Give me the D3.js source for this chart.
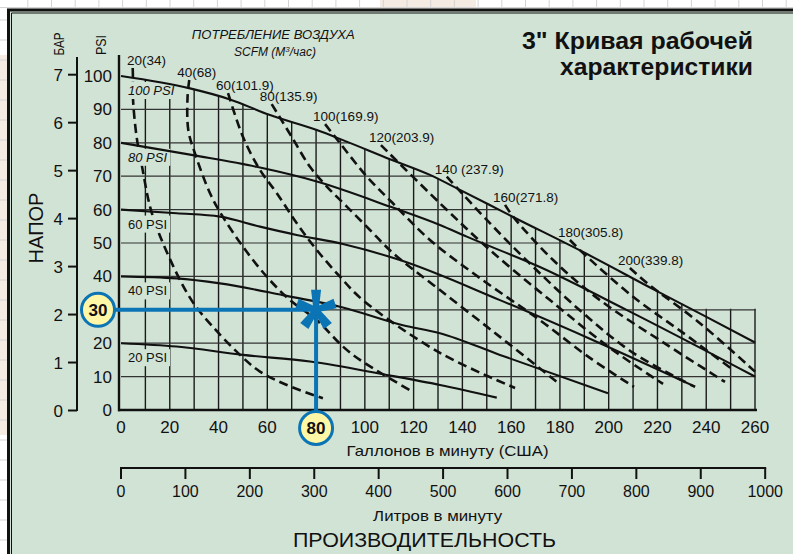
<!DOCTYPE html>
<html><head><meta charset="utf-8">
<script src="https://cdn.jsdelivr.net/npm/d3@7"></script>
<style>
body{margin:0;background:#fff}
svg{display:block}
text{font-family:"Liberation Sans",Arial,Helvetica,sans-serif;fill:#111}
</style>
</head><body>
<svg id="c" width="793" height="554"></svg>
<script>
// ---------- DATA ----------
const gpmTicks = d3.range(0, 261, 20);
const psiTicks = d3.range(0, 101, 10);
const barTicks = d3.range(0, 8, 1);
const litreTicks = d3.range(0, 1001, 100);

// Solid curves: head (PSI) vs flow (US GPM) at given air inlet pressure
const inletLabels = ["100 PSI", "80 PSI", "60 PSI", "40 PSI", "20 PSI"];
const inletStart = [100, 80, 60, 40, 20];
const inlet100 = [[0,100],[28.3,96.3],[44.7,93.0],[61.1,88.3],[80.3,83.8],[91.0,80.8],[110.3,75.1],[126.7,70.4],[139.0,65.9],[160.8,57.8],[189.5,47.3],[219.0,35.9],[238.7,28.4],[260,20.2]];
const inlet80 = [[0,80],[29.5,76.3],[55.6,72.8],[80.3,68.4],[110.3,60.9],[130.8,55.4],[141.8,51.9],[171.8,42.8],[207.5,29.9],[260,10]];
const inlet60 = [[0,60],[22.8,58.9],[40.6,57.9],[57.0,54.9],[72.0,52.4],[91.0,49.7],[114.4,44.9],[155.4,32.9],[196.4,20.0],[235.4,7.0]];
const inlet40 = [[0,40],[22.8,39.4],[40.6,37.9],[66.4,34.4],[91.0,30.7],[115.6,25.4],[130.8,23.0],[155.4,16.5],[199.7,5.0]];
const inlet20 = [[0,20],[22.8,19.0],[50.0,16.5],[77.5,14.5],[109.0,10.5],[130.8,7.5],[154.1,3.7]];

// Dashed curves: air consumption SCFM (m3/h)
const airLabels = ["20(34)","40(68)","60(101.9)","80(135.9)","100(169.9)","120(203.9)","140 (237.9)","160(271.8)","180(305.8)","200(339.8)"];
const air20 = [[4.8,102.4],[4.9,99.4],[4.9,93.4],[6.4,81.8],[8.5,73.4],[11.9,60.9],[15.3,53.4],[24.2,38.9],[30.3,31.4],[37.7,24.9],[48.8,16.5],[57.0,11.5],[68.0,7.5],[82.8,3.5]];
const air40 = [[28.0,98.8],[27.3,93.8],[27.6,83.8],[30.3,76.9],[36.5,64.9],[41.3,58.4],[50.0,48.9],[59.8,39.9],[69.3,32.9],[80.3,26.9],[91.0,19.0],[98.0,15.0],[119.7,5.4]];
const air60 = [[43.9,94.9],[50.0,81.8],[57.0,71.9],[63.9,64.9],[72.1,55.9],[80.3,47.9],[89.8,39.9],[99.2,32.9],[130.8,17.1],[161.6,6.6]];
const air80 = [[61.8,91.6],[70.0,81.8],[77.5,72.8],[84.4,66.9],[92.6,60.9],[102.1,53.9],[111.5,47.0],[130.8,35.9],[155.4,21.9],[178.8,8.4]];
const air100 = [[83.7,85.6],[89.8,79.9],[100.8,69.9],[111.5,61.9],[126.7,50.9],[147.2,39.5],[171.8,26.9],[192.3,15.6],[210.4,6.9]];
const air120 = [[106.6,79.3],[130.8,61.9],[151.3,47.9],[175.9,32.9],[200.5,18.6],[222.3,7.8]];
const air140 = [[133.6,69.9],[150.0,56.9],[169.0,42.9],[189.5,29.0],[210.0,17.1],[235.4,6.9]];
const air160 = [[157.5,61.4],[160.8,57.9],[177.2,44.9],[196.4,32.9],[223.9,19.5],[247.7,8.4]];
const air180 = [[184.1,50.9],[189.5,47.0],[210.0,33.9],[230.5,23.1],[251.0,12.0]];
const air200 = [[208.7,42.5],[215.7,38.0],[237.4,26.0],[260.0,11.5]];

// Example operating point
const exampleFlow = 80;
const exampleHead = 30;

const LITRES_PER_GAL = 3.78541;

// ---------- LAYOUT ----------
const panel = "#d1e3d5";
const blue = "#0b74b4";
const svg = d3.select("#c");
const x = d3.scaleLinear().domain([0, 260]).range([121, 755]);
const y = d3.scaleLinear().domain([0, 100]).range([410, 76]);
const yBar = d3.scaleLinear().domain([0, 7]).range([410.5, 74.7]);
const xL = d3.scaleLinear().domain([0, 1000]).range([x(0), x(1000 / LITRES_PER_GAL)]);

// outside background (spreadsheet-like)
const bg = svg.append("g");
bg.append("rect").attr("width", 793).attr("height", 554).attr("fill", "#fff");
bg.append("rect").attr("x", 380).attr("y", 0).attr("width", 96).attr("height", 9).attr("fill", "#f4ebe2");
bg.append("rect").attr("x", 0).attr("y", 55).attr("width", 8).attr("height", 380).attr("fill", "#f4ebe2");
for (let gx = 27.8; gx < 793; gx += 23.7) {
  bg.append("line").attr("x1", gx).attr("x2", gx).attr("y1", 0).attr("y2", 8).attr("stroke", "#d4d4d4").attr("stroke-width", 1);
}
for (let gy = 20; gy < 554; gy += 20) {
  bg.append("line").attr("x1", 0).attr("x2", 7).attr("y1", gy).attr("y2", gy).attr("stroke", "#d4d4d4").attr("stroke-width", 1);
}
bg.append("line").attr("x1", 0).attr("x2", 793).attr("y1", 7.5).attr("y2", 7.5).attr("stroke", "#d4d4d4");

// panel and double border
svg.append("rect").attr("x", 7).attr("y", 8.5).attr("width", 800).attr("height", 560).attr("fill", panel);
svg.append("path").attr("d", "M8.5,560 V10 H800").attr("fill", "none").attr("stroke", "#111").attr("stroke-width", 3);
svg.append("path").attr("d", "M11.5,560 V13 H800").attr("fill", "none").attr("stroke", "#111").attr("stroke-width", 1);

// clip for grid: under the 100 PSI curve, plus lower-right box up to 30 PSI
const defs = svg.append("defs");
const clip = defs.append("clipPath").attr("id", "gridclip");
clip.append("path").attr("d", d3.area().x(d => x(d[0])).y0(y(0) + 2).y1(d => y(d[1]) - 0.5).curve(d3.curveMonotoneX)(inlet100));
clip.append("rect").attr("x", x(200)).attr("y", y(30) - 1).attr("width", x(260) - x(200) + 1.5).attr("height", y(0) - y(30) + 3);

const gGrid = svg.append("g").attr("clip-path", "url(#gridclip)");
d3.range(10, 261, 10).forEach(v => {
  gGrid.append("line").attr("x1", x(v)).attr("x2", x(v)).attr("y1", y(0)).attr("y2", y(100))
    .attr("stroke", "#1a1a1a").attr("stroke-width", 1.4);
});
d3.range(10, 100, 10).forEach(v => {
  gGrid.append("line").attr("x1", x(0)).attr("x2", x(260) + 0.7).attr("y1", y(v)).attr("y2", y(v))
    .attr("stroke", "#333").attr("stroke-width", 1.2);
});

// layers
const gDash = svg.append("g");
const gRects = svg.append("g");
const gSolid = svg.append("g");
const gLbl = svg.append("g");
const ax = svg.append("g");
const gAnno = svg.append("g");

// dashed air consumption curves
const airCurves = [air20, air40, air60, air80, air100, air120, air140, air160, air180, air200];
const dashLine = d3.line().x(d => x(d[0])).y(d => y(d[1])).curve(d3.curveCatmullRom.alpha(0.5));
airCurves.forEach((c, i) => {
  gDash.append("path").attr("d", dashLine(c)).attr("fill", "none")
    .attr("stroke", "#111").attr("stroke-width", 2.6).attr("stroke-dasharray", "9,5");
  gLbl.append("text").attr("x", Math.max(x(0) + 6, x(c[0][0]) - 12)).attr("y", y(c[0][1]) - 3)
    .attr("font-size", 13.5).text(airLabels[i]);
});

// solid inlet pressure curves
const inletCurves = [inlet100, inlet80, inlet60, inlet40, inlet20];
const solidLine = d3.line().x(d => x(d[0])).y(d => y(d[1])).curve(d3.curveMonotoneX);
inletCurves.forEach((c, i) => {
  gSolid.append("path").attr("d", solidLine(c)).attr("fill", "none")
    .attr("stroke", "#111").attr("stroke-width", 2.1);
  const t = gLbl.append("text").attr("x", x(0) + 7).attr("y", y(inletStart[i]) + 19)
    .attr("font-size", 13).attr("font-style", i < 2 ? "italic" : "normal").text(inletLabels[i]);
  const bb = t.node().getBBox();
  gRects.append("rect").attr("x", bb.x - 3).attr("y", bb.y - 1).attr("width", bb.width + 6).attr("height", bb.height + 2).attr("fill", panel);
});

// axes
ax.append("line").attr("x1", x(0) - 2).attr("x2", x(0) - 2).attr("y1", 55).attr("y2", y(0) + 1.2).attr("stroke", "#111").attr("stroke-width", 2.4);
ax.append("line").attr("x1", x(0) - 3).attr("x2", x(260) + 2).attr("y1", y(0)).attr("y2", y(0)).attr("stroke", "#111").attr("stroke-width", 2.6);
// tick labels hidden under the example callouts are not drawn
psiTicks.filter(v => v !== exampleHead).forEach(v => {
  ax.append("text").attr("x", 112).attr("y", y(v) + 6).attr("text-anchor", "end").attr("font-size", 17).text(v);
});
gpmTicks.filter(v => v !== exampleFlow).forEach(v => {
  ax.append("text").attr("x", x(v)).attr("y", 433).attr("text-anchor", "middle").attr("font-size", 17).text(v);
});
// bar axis
ax.append("line").attr("x1", 77).attr("x2", 77).attr("y1", 57).attr("y2", y(0) + 1).attr("stroke", "#111").attr("stroke-width", 2);
barTicks.forEach(b => {
  ax.append("line").attr("x1", 68).attr("x2", 77).attr("y1", yBar(b)).attr("y2", yBar(b)).attr("stroke", "#111").attr("stroke-width", 2);
  ax.append("text").attr("x", 63).attr("y", yBar(b) + 6).attr("text-anchor", "end").attr("font-size", 17).text(b);
});
ax.append("text").attr("transform", "translate(64,44) rotate(-90)").attr("text-anchor", "middle")
  .attr("font-size", 15).attr("textLength", 23).attr("lengthAdjust", "spacingAndGlyphs").text("БАР");
ax.append("text").attr("transform", "translate(106,45) rotate(-90)").attr("text-anchor", "middle")
  .attr("font-size", 15).attr("textLength", 20).attr("lengthAdjust", "spacingAndGlyphs").text("PSI");
ax.append("text").attr("transform", "translate(43,228) rotate(-90)").attr("text-anchor", "middle")
  .attr("font-size", 20).text("НАПОР");

// litre axis
const ly = 468;
ax.append("line").attr("x1", xL(0) - 1).attr("x2", xL(1000) + 1).attr("y1", ly).attr("y2", ly).attr("stroke", "#111").attr("stroke-width", 2);
litreTicks.forEach(v => {
  ax.append("line").attr("x1", xL(v)).attr("x2", xL(v)).attr("y1", ly).attr("y2", ly + 11).attr("stroke", "#111").attr("stroke-width", 2);
  ax.append("text").attr("x", xL(v)).attr("y", 497).attr("text-anchor", "middle").attr("font-size", 16).text(v);
});
ax.append("text").attr("x", 447.6).attr("y", 456).attr("text-anchor", "middle").attr("font-size", 14.5)
  .attr("textLength", 202).attr("lengthAdjust", "spacingAndGlyphs").text("Галлонов в минуту (США)");
ax.append("text").attr("x", 437.6).attr("y", 521).attr("text-anchor", "middle").attr("font-size", 14.5)
  .attr("textLength", 129).attr("lengthAdjust", "spacingAndGlyphs").text("Литров в минуту");
ax.append("text").attr("x", 424.5).attr("y", 547).attr("text-anchor", "middle").attr("font-size", 21)
  .attr("textLength", 263).attr("lengthAdjust", "spacingAndGlyphs").text("ПРОИЗВОДИТЕЛЬНОСТЬ");

// titles
svg.append("text").attr("x", 753).attr("y", 48.5).attr("text-anchor", "end").attr("font-size", 23).attr("font-weight", "bold")
  .attr("textLength", 231).attr("lengthAdjust", "spacingAndGlyphs").text("3\" Кривая рабочей");
svg.append("text").attr("x", 753).attr("y", 74.5).attr("text-anchor", "end").attr("font-size", 23).attr("font-weight", "bold")
  .attr("textLength", 193).attr("lengthAdjust", "spacingAndGlyphs").text("характеристики");
svg.append("text").attr("x", 273.3).attr("y", 39.3).attr("text-anchor", "middle").attr("font-size", 12).attr("font-style", "italic")
  .attr("textLength", 163).attr("lengthAdjust", "spacingAndGlyphs").text("ПОТРЕБЛЕНИЕ ВОЗДУХА");
const sc = svg.append("text").attr("x", 275).attr("y", 56).attr("text-anchor", "middle").attr("font-size", 12).attr("font-style", "italic");
sc.append("tspan").text("SCFM (M");
sc.append("tspan").attr("font-size", 8).attr("dy", -4).text("3");
sc.append("tspan").attr("dy", 4).text("/час)");

// example annotation
const px = x(exampleFlow), py = y(exampleHead);
const cxHead = x(0) - 23, cyFlow = y(0) + 18;
gAnno.append("line").attr("x1", cxHead + 15).attr("x2", px).attr("y1", py).attr("y2", py).attr("stroke", blue).attr("stroke-width", 4);
gAnno.append("line").attr("x1", px).attr("x2", px).attr("y1", py).attr("y2", cyFlow - 15).attr("stroke", blue).attr("stroke-width", 4);
[[cxHead, py, exampleHead], [px, cyFlow, exampleFlow]].forEach(([cx, cy, v]) => {
  gAnno.append("circle").attr("cx", cx).attr("cy", cy).attr("r", 16.5).attr("fill", "#fff6a6").attr("stroke", blue).attr("stroke-width", 3);
  gAnno.append("text").attr("x", cx).attr("y", cy).attr("dy", "0.36em").attr("text-anchor", "middle")
    .attr("font-size", 17).attr("font-weight", "bold").text(v);
});
// asterisk marker
[-90, -18, 54, 126, 198].forEach(a => {
  const r = a * Math.PI / 180, L = 20;
  const ux = Math.cos(r), uy = Math.sin(r), nx = -uy, ny = ux;
  const pts = [
    [px + nx * 2.7, py + ny * 2.7], [px + ux * L + nx * 5, py + uy * L + ny * 5],
    [px + ux * L - nx * 5, py + uy * L - ny * 5], [px - nx * 2.7, py - ny * 2.7]
  ];
  gAnno.append("path").attr("d", "M" + pts.map(p => p.join(",")).join("L") + "Z").attr("fill", blue);
});
gAnno.append("circle").attr("cx", px).attr("cy", py).attr("r", 4.8).attr("fill", blue);
</script>
</body></html>
